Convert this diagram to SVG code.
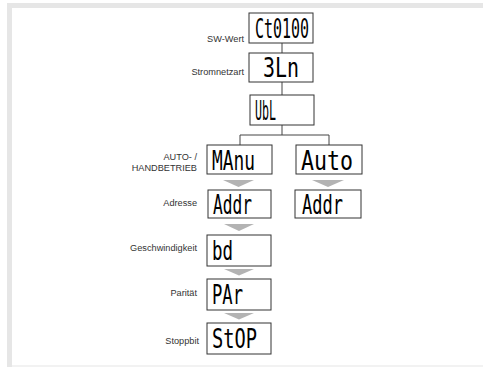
<svg xmlns="http://www.w3.org/2000/svg" width="483" height="367" viewBox="0 0 483 367">
<style>
.box{fill:#fff;stroke:#333;stroke-width:1}
.lcd{font-family:"DejaVu Sans Mono",monospace;font-size:26px;fill:#000}
.lbl{font-family:"Liberation Sans",Arial,sans-serif;font-size:9.2px;fill:#333;text-anchor:end}
.con line{stroke:#444;stroke-width:1}
.tri{fill:#b3b3b3}
</style>
<rect x="0" y="0" width="483" height="367" fill="#fff"/>
<rect x="7" y="3" width="476" height="364" fill="#e6e6e6"/>
<rect x="12" y="8" width="471" height="357" fill="#fff"/>
<rect x="12" y="365" width="471" height="2" fill="#f2f2f2"/>
<g class="con" id="connectors">
<line x1="282" y1="43" x2="282" y2="53"/>
<line x1="282" y1="82" x2="282" y2="95"/>
<line x1="282" y1="125" x2="282" y2="135"/>
<line x1="240" y1="135" x2="329" y2="135"/>
<line x1="240" y1="135" x2="240" y2="145"/>
<line x1="329" y1="135" x2="329" y2="145"/>
<polygon class="tri" points="223,180 254,180 238.5,187"/>
<polygon class="tri" points="312,180 344,180 328,187"/>
<polygon class="tri" points="224,224 254,224 239,231"/>
<polygon class="tri" points="224,269 254,269 239,275.5"/>
<polygon class="tri" points="224,313 254,313 239,319.5"/>
</g>
<g id="n-ct">
<text class="lbl" x="244" y="42">SW-Wert</text>
<rect class="box" x="249" y="13" width="64" height="30"/>
<text class="lcd" x="255" y="37.5" textLength="54" lengthAdjust="spacingAndGlyphs">Ct0100</text>
</g>
<g id="n-netz">
<text class="lbl" x="244" y="75">Stromnetzart</text>
<rect class="box" x="249" y="53" width="64" height="29"/>
<text class="lcd" x="263" y="76.5" textLength="36" lengthAdjust="spacingAndGlyphs">3Ln</text>
</g>
<g id="n-ubl">
<rect class="box" x="250" y="95" width="64" height="30"/>
<text class="lcd" x="255" y="119.5" textLength="21" lengthAdjust="spacingAndGlyphs">UbL</text>
</g>
<g id="n-manu">
<text class="lbl" x="197" y="160">AUTO- /</text>
<text class="lbl" x="197" y="171">HANDBETRIEB</text>
<rect class="box" x="207" y="145" width="65" height="29"/>
<text class="lcd" x="212" y="169.5" textLength="43" lengthAdjust="spacingAndGlyphs">MAnu</text>
</g>
<g id="n-auto">
<rect class="box" x="296" y="145" width="66" height="29"/>
<text class="lcd" x="301" y="169.5" textLength="52" lengthAdjust="spacingAndGlyphs">Auto</text>
</g>
<g id="n-addr1">
<text class="lbl" x="197" y="206">Adresse</text>
<rect class="box" x="208" y="190" width="63" height="28"/>
<text class="lcd" x="213" y="213.5" textLength="39" lengthAdjust="spacingAndGlyphs">Addr</text>
</g>
<g id="n-addr2">
<rect class="box" x="295" y="190" width="66" height="28"/>
<text class="lcd" x="302" y="213.5" textLength="41" lengthAdjust="spacingAndGlyphs">Addr</text>
</g>
<g id="n-bd">
<text class="lbl" x="197" y="251">Geschwindigkeit</text>
<rect class="box" x="207" y="235" width="64" height="31"/>
<text class="lcd" x="212" y="259.5" textLength="21" lengthAdjust="spacingAndGlyphs">bd</text>
</g>
<g id="n-par">
<text class="lbl" x="197" y="296">Parität</text>
<rect class="box" x="207" y="279" width="64" height="31"/>
<text class="lcd" x="212" y="303.5" textLength="31" lengthAdjust="spacingAndGlyphs">PAr</text>
</g>
<g id="n-stop">
<text class="lbl" x="199" y="344">Stoppbit</text>
<rect class="box" x="207" y="323" width="64" height="31"/>
<text class="lcd" x="212" y="347.5" textLength="45" lengthAdjust="spacingAndGlyphs">StOP</text>
</g>
</svg>
